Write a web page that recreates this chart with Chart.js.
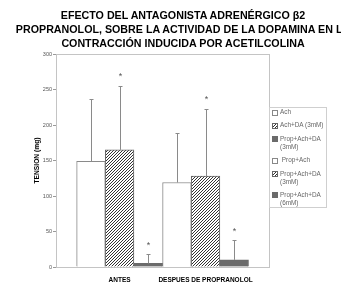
<!DOCTYPE html>
<html>
<head>
<meta charset="utf-8">
<script src="https://cdn.jsdelivr.net/npm/chart.js@4.4.1/dist/chart.umd.min.js"></script>
<style>
  body { margin: 0; background: #fff; overflow: hidden; }
  #wrap { position: relative; width: 341px; height: 293px; overflow: hidden; }
  #title {
    position: absolute; left: 14px; top: 8px; width: 338px;
    font: bold 10.7px "Liberation Sans", Arial, sans-serif; line-height: 14px;
    text-align: center; white-space: nowrap; color: #000;
  }
  #legend {
    position: absolute; left: 269px; top: 107px; width: 54px;
    border: 1px solid #cfcfcf; padding: 0 0 0 2px;
    font: 6.4px "Liberation Sans", Arial, sans-serif; color: #666; line-height: 8px;
  }
  .item { display: flex; align-items: flex-start; margin-bottom: 5.4px; }
  .item:last-child { margin-bottom: 0; }
  .mark { flex: none; width: 4px; height: 4px; margin: 1.5px 2px 0 0; border: 1px solid #888; background: #fff; }
</style>
</head>
<body>
<div id="wrap">
  <canvas id="myChart" width="341" height="293"></canvas>
  <div id="title">EFECTO DEL ANTAGONISTA ADRENÉRGICO β2<br>PROPRANOLOL, SOBRE LA ACTIVIDAD DE LA DOPAMINA EN LA<br>CONTRACCIÓN INDUCIDA POR ACETILCOLINA</div>
  <div id="legend"></div>
</div>
<script>
// data
const groupLabels = ["ANTES", "DESPUES DE PROPRANOLOL"];
const seriesLabels = ["Ach", "Ach+DA (3mM)", "Prop+Ach+DA (3mM)", "Prop+Ach", "Prop+Ach+DA (3mM)", "Prop+Ach+DA (6mM)"];
const seriesGroup = [0, 0, 0, 1, 1, 1]; // which group each series belongs to
const tensionMean = [149, 165, 5, 119, 128, 10];
const tensionSD = [88, 90, 13, 70, 95, 28];
const significant = [false, true, true, false, true, true];

// styles
const seriesStyle = ["open", "hatch", "solid", "open", "hatch", "solid"];
const frameColor = "#c4c4c4";
const darkGray = "#6b6b6b";

// hatch pattern "/////"
const tile = document.createElement("canvas");
tile.width = 3;
tile.height = 3;
const tctx = tile.getContext("2d");
tctx.fillStyle = "#fff";
tctx.fillRect(0, 0, 3, 3);
tctx.fillStyle = "#333";
tctx.fillRect(2, 0, 1, 1);
tctx.fillRect(1, 1, 1, 1);
tctx.fillRect(0, 2, 1, 1);
const hatch = tctx.createPattern(tile, "repeat");

function fillFor(style) {
  if (style === "hatch") return hatch;
  if (style === "solid") return darkGray;
  return "#fff";
}
function borderFor(style) {
  if (style === "hatch") return "#666";
  if (style === "solid") return darkGray;
  return "#8a8a8a";
}

const datasets = seriesLabels.map((label, i) => ({
  label: label,
  data: groupLabels.map((g, gi) => ({ x: gi + 1, y: seriesGroup[i] === gi ? tensionMean[i] : null })),
  backgroundColor: fillFor(seriesStyle[i]),
  borderColor: borderFor(seriesStyle[i]),
  borderWidth: 1,
  borderSkipped: "bottom",
  skipNull: true,
  categoryPercentage: 1,
  barPercentage: 1,
}));

// frame round the plot area
const framePlugin = {
  id: "frame",
  beforeDatasetsDraw(chart) {
    const a = chart.chartArea;
    const ctx = chart.ctx;
    ctx.save();
    ctx.strokeStyle = frameColor;
    ctx.lineWidth = 1;
    ctx.strokeRect(Math.round(a.left) + 0.5, Math.round(a.top) + 0.5, Math.round(a.right - a.left) - 1, Math.round(a.bottom - a.top));
    ctx.restore();
  },
};

// upper error bars and asterisks
const errorPlugin = {
  id: "errors",
  afterDatasetsDraw(chart) {
    const ctx = chart.ctx;
    const yScale = chart.scales.y;
    ctx.save();
    chart.data.datasets.forEach((ds, i) => {
      const meta = chart.getDatasetMeta(i);
      const gi = seriesGroup[i];
      const bar = meta.data[gi];
      if (!bar) return;
      const x = Math.round(bar.x) + 0.5;
      const yTop = bar.y;
      const yEnd = yScale.getPixelForValue(tensionMean[i] + tensionSD[i]);
      ctx.strokeStyle = "#8a8a8a";
      ctx.lineWidth = 1;
      ctx.beginPath();
      ctx.moveTo(x, yTop);
      ctx.lineTo(x, Math.round(yEnd) + 0.5);
      ctx.moveTo(x - 2, Math.round(yEnd) + 0.5);
      ctx.lineTo(x + 2, Math.round(yEnd) + 0.5);
      ctx.stroke();
      if (significant[i]) {
        ctx.fillStyle = "#555";
        ctx.font = "9px 'Liberation Sans', Arial, sans-serif";
        ctx.textAlign = "center";
        ctx.textBaseline = "middle";
        ctx.fillText("*", x, yEnd - 9);
      }
    });
    ctx.restore();
  },
};

const chart = new Chart("myChart", {
  type: "bar",
  data: { datasets: datasets },
  options: {
    responsive: false,
    animation: false,
    layout: { padding: { top: 54, right: 71, bottom: 0, left: 0 } },
    plugins: {
      legend: { display: false },
      tooltip: { enabled: false },
    },
    scales: {
      x: {
        type: "linear",
        offset: false,
        min: 0.26,
        max: 2.75,
        grid: { display: false },
        border: { display: false },
        afterBuildTicks: (scale) => {
          scale.ticks = groupLabels.map((g, i) => ({ value: i + 1 }));
        },
        afterFit: (scale) => {
          scale.height = 26;
        },
        ticks: {
          autoSkip: false,
          maxRotation: 0,
          padding: 1,
          color: "#000",
          font: { family: "'Liberation Sans', Arial, sans-serif", size: 6.5, weight: "bold" },
          callback: (value) => groupLabels[value - 1] || "",
        },
      },
      y: {
        min: 0,
        max: 300,
        grid: { drawOnChartArea: false, drawTicks: true, tickLength: 3, color: "#9a9a9a" },
        border: { display: false },
        afterFit: (scale) => {
          scale.width = 56;
        },
        ticks: {
          stepSize: 50,
          padding: 1,
          color: "#555",
          font: { family: "'Liberation Sans', Arial, sans-serif", size: 5.5 },
        },
        title: {
          display: true,
          text: "TENSION (mg)",
          color: "#000",
          padding: { top: 33, bottom: 0 },
          font: { family: "'Liberation Sans', Arial, sans-serif", size: 6.7, weight: "bold" },
        },
      },
    },
  },
  plugins: [framePlugin, errorPlugin],
});

// legend built from the datasets
const legend = document.getElementById("legend");
chart.data.datasets.forEach((ds, i) => {
  const item = document.createElement("div");
  item.className = "item";
  const mark = document.createElement("span");
  mark.className = "mark";
  if (seriesStyle[i] === "hatch") {
    mark.style.backgroundImage = "url(" + tile.toDataURL() + ")";
    mark.style.borderColor = "#666";
  } else if (seriesStyle[i] === "solid") {
    mark.style.background = darkGray;
    mark.style.borderColor = darkGray;
  }
  const text = document.createElement("span");
  text.textContent = (i === 3 ? "\u00a0" : "") + ds.label;
  item.appendChild(mark);
  item.appendChild(text);
  legend.appendChild(item);
});
</script>
</body>
</html>
